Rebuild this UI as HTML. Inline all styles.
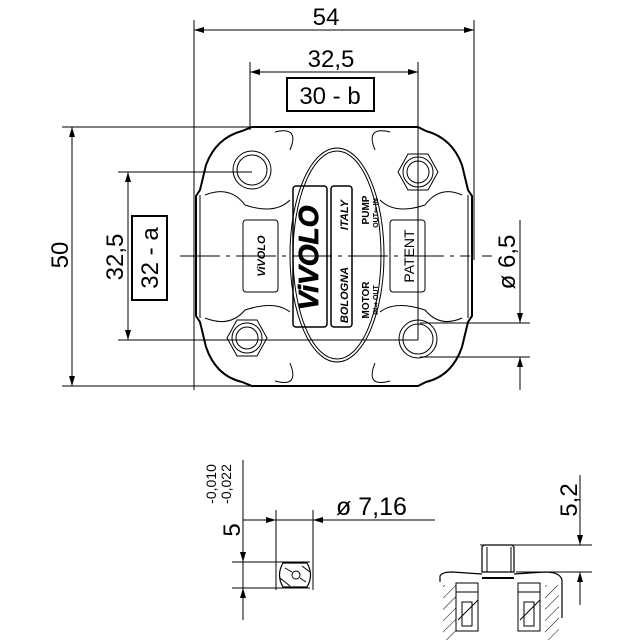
<!DOCTYPE html>
<html><head><meta charset="utf-8"><style>
html,body{margin:0;padding:0;background:#fff}
svg{display:block}
text{font-family:"Liberation Sans",sans-serif;fill:#000}
</style></head><body>
<svg width="640" height="640" viewBox="0 0 640 640" xmlns="http://www.w3.org/2000/svg">
<defs>
<marker id="a" viewBox="0 0 10 6" refX="10" refY="3" markerWidth="14" markerHeight="6" markerUnits="userSpaceOnUse" orient="auto-start-reverse"><path d="M0,0L10,3L0,6z" fill="#000"/></marker>
<pattern id="h" width="8" height="8" patternUnits="userSpaceOnUse" patternTransform="rotate(45)"><line x1="0" y1="0" x2="0" y2="8" stroke="#000" stroke-width="1"/></pattern>
</defs>
<g stroke="#000" stroke-width="1" fill="none">
<line x1="194" y1="20" x2="194" y2="390"/>
<line x1="474" y1="20" x2="474" y2="260"/>
<line x1="194" y1="30" x2="474" y2="30" marker-start="url(#a)" marker-end="url(#a)"/>
<line x1="250" y1="62" x2="250" y2="130"/>
<line x1="418" y1="62" x2="418" y2="340"/>
<line x1="250" y1="72" x2="418" y2="72" marker-start="url(#a)" marker-end="url(#a)"/>
<rect x="287" y="78" width="87" height="33" stroke-width="2"/>
<line x1="62" y1="127" x2="252" y2="127"/>
<line x1="62" y1="386" x2="300" y2="386"/>
<line x1="72" y1="127" x2="72" y2="386" marker-start="url(#a)" marker-end="url(#a)"/>
<line x1="118" y1="172" x2="252" y2="172"/>
<line x1="118" y1="340" x2="418" y2="340"/>
<line x1="128" y1="172" x2="128" y2="340" marker-start="url(#a)" marker-end="url(#a)"/>
<rect x="132" y="216" width="35" height="84" stroke-width="2"/>
<line x1="180" y1="256" x2="184" y2="256"/>
<line x1="420" y1="323" x2="530" y2="323"/>
<line x1="420" y1="357" x2="530" y2="357"/>
<line x1="520" y1="220" x2="520" y2="323" marker-end="url(#a)"/>
<line x1="520" y1="357" x2="520" y2="390" marker-start="url(#a)"/>
<path d="M252,127 L418,127 L426,131 Q452,138 462,165 L468,190 L472,196 L472,316 L468,322 L462,347 Q452,376 426,382 L418,386 L252,386 L242,382 Q216,376 206,347 L200,322 L196,316 L196,196 L200,190 L206,165 Q216,138 242,131 Z" stroke-width="2"/>
<path d="M200,195 L200,318" />
<path d="M468,195 L468,318" />
<path d="M275,132 Q300,126 290,150 M390,132 Q365,126 375,150 M275,381 Q300,388 290,363 M390,381 Q365,388 375,363"/>
<path d="M205,195 Q230,185 245,205 Q275,215 290,200 M462,195 Q440,185 425,205 Q395,215 380,200 M205,318 Q230,328 245,310 Q275,300 290,312 M462,318 Q440,328 425,310 Q395,300 380,312"/>
<ellipse cx="337" cy="255" rx="47" ry="107"/>
<ellipse cx="337" cy="255" rx="44" ry="104"/>
<circle cx="252" cy="170" r="19"/><circle cx="252" cy="170" r="15"/>
<circle cx="418" cy="339" r="19"/><circle cx="418" cy="339" r="15"/>
<polygon points="398,172 408,154 428,154 438,172 428,190 408,190"/>
<circle cx="418" cy="172" r="15"/><circle cx="418" cy="172" r="11"/>
<polygon points="227,338 237,320 257,320 267,338 257,356 237,356"/>
<circle cx="247" cy="338" r="15"/><circle cx="247" cy="338" r="11"/>
<rect x="293" y="186" width="34" height="141" rx="3" stroke-width="1.5"/>
<rect x="331" y="186" width="21" height="141" rx="3" stroke-width="1.5"/>
<rect x="243" y="220" width="35" height="72" rx="3"/>
<rect x="390" y="220" width="35" height="72" rx="3"/>
<line x1="180" y1="256" x2="470" y2="256" stroke-dasharray="40,6,4,6"/>
<line x1="482" y1="256" x2="492" y2="256"/>
<line x1="243" y1="460" x2="243" y2="620"/>
<line x1="232" y1="562" x2="310" y2="562"/>
<line x1="232" y1="588" x2="310" y2="588"/>
<line x1="243" y1="540" x2="243" y2="562" marker-end="url(#a)"/>
<line x1="243" y1="588" x2="243" y2="610" marker-start="url(#a)"/>
<line x1="276" y1="510" x2="276" y2="590"/>
<line x1="313" y1="510" x2="313" y2="590"/>
<line x1="260" y1="520" x2="276" y2="520" marker-end="url(#a)"/>
<line x1="243" y1="520" x2="435" y2="520"/>
<line x1="330" y1="520" x2="313" y2="520" marker-end="url(#a)"/>
<path d="M283,563 L307,563 Q314,575 307,587 L283,587 Q276,575 283,563Z" stroke-width="1.2"/>
<circle cx="296" cy="575" r="4"/>
<path d="M285,568 L292,572 M300,578 L306,582 M280,578 L290,586 M302,566 L310,572"/>
<line x1="480" y1="545" x2="592" y2="545"/>
<line x1="516" y1="572" x2="592" y2="572"/>
<line x1="580" y1="475" x2="580" y2="545" marker-end="url(#a)"/>
<line x1="580" y1="572" x2="580" y2="605" marker-start="url(#a)"/>
<path d="M482,547 L484,545 L512,545 L514,547 L514,572 L482,572 Z" stroke-width="1.2"/>
<line x1="487" y1="547" x2="487" y2="572"/><line x1="511" y1="547" x2="511" y2="572"/>
<path d="M440,582 L440,576 Q442,572 452,572 L482,574 M514,574 L545,572 Q560,572 562,580 L562,618" stroke-width="1.2"/>
<line x1="482" y1="578" x2="514" y2="578" stroke-width="2"/>
<rect x="443" y="585" width="13" height="55" fill="url(#h)" stroke="none"/>
<rect x="545" y="585" width="14" height="55" fill="url(#h)" stroke="none"/>
<rect x="456" y="583" width="22" height="48"/><rect x="518" y="583" width="22" height="48"/>
<rect x="462" y="602" width="10" height="24"/><rect x="524" y="602" width="10" height="24"/>
<path d="M456,592 L478,592 M518,592 L540,592 M458,620 L478,600 M520,620 L540,600"/>
</g>
<text x="326" y="25" font-size="24" text-anchor="middle">54</text>
<text x="331" y="67" font-size="24" text-anchor="middle">32,5</text>
<text x="330" y="104" font-size="24" text-anchor="middle">30 - b</text>
<text transform="translate(68,255) rotate(-90)" font-size="24" text-anchor="middle">50</text>
<text transform="translate(123,257) rotate(-90)" font-size="24" text-anchor="middle">32,5</text>
<text transform="translate(158,258) rotate(-90)" font-size="24" text-anchor="middle">32 - a</text>
<text transform="translate(515,262) rotate(-90)" font-size="24" text-anchor="middle">ø 6,5</text>
<text transform="translate(318,258) rotate(-90)" font-size="28" font-style="italic" font-weight="bold" text-anchor="middle" fill="none" stroke="#000" stroke-width="0.8">ViVOLO</text>
<text transform="translate(348,295) rotate(-90)" font-size="11" font-style="italic" font-weight="bold" text-anchor="middle">BOLOGNA</text>
<text transform="translate(348,215) rotate(-90)" font-size="11" font-style="italic" font-weight="bold" text-anchor="middle">ITALY</text>
<text transform="translate(369,210) rotate(-90)" font-size="10" font-weight="bold" text-anchor="middle">PUMP</text>
<text transform="translate(378,213) rotate(-90)" font-size="7" font-weight="bold" text-anchor="middle">OUT⇐ IN</text>
<text transform="translate(369,300) rotate(-90)" font-size="10" font-weight="bold" text-anchor="middle">MOTOR</text>
<text transform="translate(378,300) rotate(-90)" font-size="7" font-weight="bold" text-anchor="middle">IN⇒ OUT</text>
<text transform="translate(265,256) rotate(-90)" font-size="11" font-style="italic" font-weight="bold" text-anchor="middle">ViVOLO</text>
<text transform="translate(414,256) rotate(-90)" font-size="14" text-anchor="middle">PATENT</text>
<text transform="translate(240,530) rotate(-90)" font-size="24" text-anchor="middle">5</text>
<text transform="translate(216,484) rotate(-90)" font-size="14" text-anchor="middle">-0,010</text>
<text transform="translate(231,484) rotate(-90)" font-size="14" text-anchor="middle">-0,022</text>
<text x="336" y="515" font-size="25">ø 7,16</text>
<text transform="translate(577,500) rotate(-90)" font-size="24" text-anchor="middle">5,2</text>
</svg>
</body></html>
